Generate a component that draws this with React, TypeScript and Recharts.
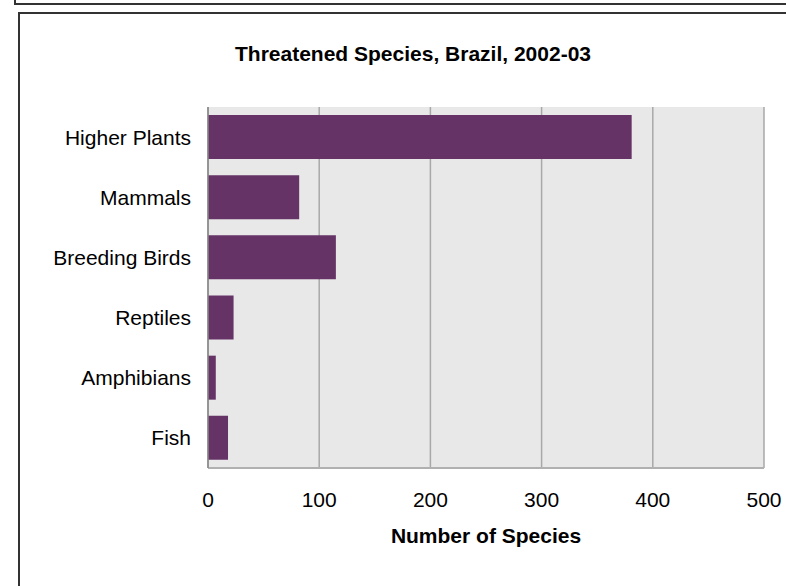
import React from "react";
import { BarChart, Bar, XAxis, YAxis, CartesianGrid } from "recharts";

const categories = ["Higher Plants", "Mammals", "Breeding Birds", "Reptiles", "Amphibians", "Fish"];
const speciesCounts = [381, 82, 115, 23, 7, 18];
const xTicks = [0, 100, 200, 300, 400, 500];

const data = categories.map((c, i) => ({ category: c, count: speciesCounts[i] }));

export default function App() {
  return (
    <div
      style={{
        position: "absolute",
        left: 0,
        top: 0,
        width: 786,
        height: 586,
        overflow: "hidden",
        background: "#fff",
        fontFamily: "'Liberation Sans', Arial, sans-serif",
      }}
    >
      <div
        style={{
          position: "absolute",
          left: 14,
          top: 0,
          width: 772,
          height: 5,
          borderLeft: "2px solid #333",
          borderBottom: "2px solid #333",
          boxSizing: "border-box",
        }}
      />
      <div
        style={{
          position: "absolute",
          left: 18,
          top: 12,
          width: 768,
          height: 574,
          borderLeft: "2px solid #333",
          borderTop: "2px solid #333",
          boxSizing: "border-box",
        }}
      />
      <div
        style={{
          position: "absolute",
          left: 0,
          width: 826,
          top: 42,
          textAlign: "center",
          fontWeight: "bold",
          fontSize: 21,
          lineHeight: "24px",
          color: "#000",
        }}
      >
        Threatened Species, Brazil, 2002-03
      </div>
      <div style={{ position: "absolute", left: 0, top: 0 }}>
        <BarChart
          width={786}
          height={586}
          layout="vertical"
          data={data}
          margin={{ top: 107, right: 22, bottom: 38, left: 0 }}
          barSize={44}
        >
          <CartesianGrid horizontal={false} stroke="#a8a8a8" strokeWidth={1.5} fill="#e8e8e8" />
          <XAxis
            type="number"
            domain={[0, 500]}
            ticks={xTicks}
            tickLine={false}
            axisLine={{ stroke: "#b0b0b0", strokeWidth: 2 }}
            height={80}
            tickMargin={18}
            tick={{ fontSize: 21, fill: "#000" }}
            label={{
              value: "Number of Species",
              position: "insideBottom",
              offset: 5,
              style: { fontSize: 21, fontWeight: "bold", fill: "#000" },
            }}
          />
          <YAxis
            type="category"
            dataKey="category"
            width={208}
            tickLine={false}
            axisLine={{ stroke: "#888", strokeWidth: 1.5 }}
            tickMargin={11}
            tick={{ fontSize: 21, fill: "#000" }}
            interval={0}
          />
          <Bar dataKey="count" fill="#663366" isAnimationActive={false} />
        </BarChart>
      </div>
    </div>
  );
}
